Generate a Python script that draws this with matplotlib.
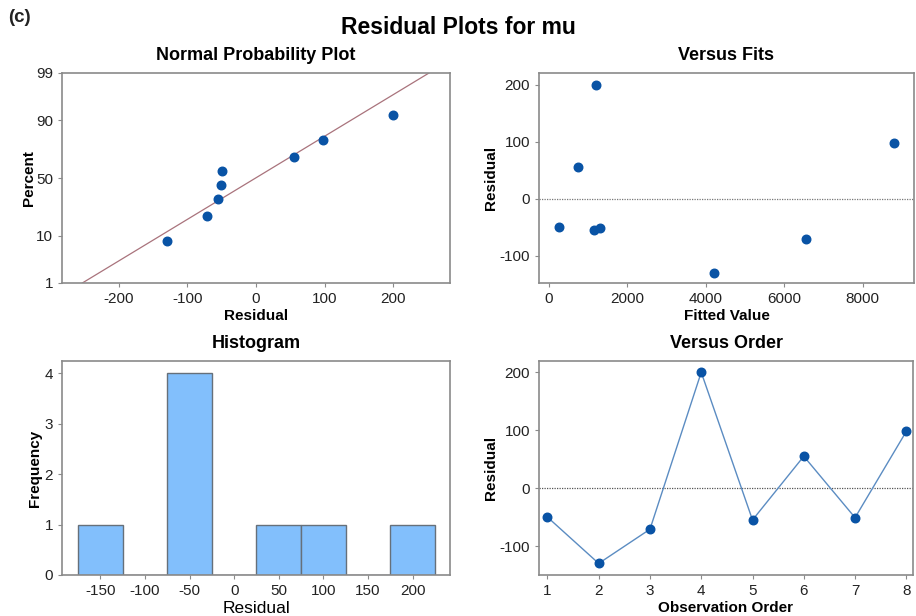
import numpy as np
import matplotlib

matplotlib.use("Agg")
import matplotlib.pyplot as plt
from statistics import NormalDist

plt.rcParams["font.family"] = ["Liberation Sans", "DejaVu Sans"]
plt.rcParams["axes.unicode_minus"] = False

# residuals in observation order, with their fitted values
ORDER = [1, 2, 3, 4, 5, 6, 7, 8]
RESID = [-50, -130, -71, 200, -55, 55, -51, 98]
FITTED = [250, 4200, 6550, 1200, 1150, 750, 1300, 8800]

# normal probability plot: sorted residuals and plotting percents
NPP_RESID = [-130, -71, -55, -51, -50, 55, 98, 200]
NPP_PCT = [8.3, 20.2, 32.1, 44.0, 56.0, 67.9, 79.8, 91.7]
NPP_TICKS = [1, 10, 50, 90, 99]

# histogram bins (centres) and counts
HIST_CENTERS = [-150, -100, -50, 0, 50, 100, 150, 200]
HIST_COUNTS = [1, 0, 4, 0, 1, 1, 0, 1]
HIST_WIDTH = 50

DOT = "#0953A5"
SPINE = "#8A8A8A"
TXT = "#222222"

W, H = 916, 616


def _ax(fig, l, r, t, b):
    ax = fig.add_axes([l / W, (H - b) / H, (r - l) / W, (b - t) / H])
    for s in ax.spines.values():
        s.set_color(SPINE)
        s.set_linewidth(1.2)
    ax.tick_params(labelsize=11, colors=TXT, length=3, width=0.8)
    ax.tick_params(axis="both", color=SPINE)
    return ax


def _z(p):
    return NormalDist().inv_cdf(p / 100.0)


fig = plt.figure(figsize=(W / 100, H / 100), dpi=100)
fig.text(0.5, 1 - 28 / H, "Residual Plots for mu", ha="center", va="center",
         fontsize=16.5, fontweight="bold")
fig.text(8 / W, 1 - 18 / H, "(c)", ha="left", va="center",
         fontsize=13.5, fontweight="bold", color="#222222")

# --- normal probability plot
ax = _ax(fig, 62, 450, 73, 283)
mu, sd = np.mean(RESID), np.std(RESID, ddof=1)
zl, zh = _z(1), _z(99)
ax.plot([mu + zl * sd, mu + zh * sd], [zl, zh],
        color="#A9737C", lw=0.9, zorder=1)
ax.scatter(NPP_RESID, [_z(p) for p in NPP_PCT], s=38, color=DOT, zorder=3)
ax.set_xlim(-283, 283)
ax.set_ylim(zl, zh)
ax.set_xticks([-200, -100, 0, 100, 200])
ax.set_yticks([_z(p) for p in NPP_TICKS])
ax.set_yticklabels([str(p) for p in NPP_TICKS])
ax.set_xlabel("Residual", fontsize=11, fontweight="bold", labelpad=2)
ax.set_ylabel("Percent", fontsize=11, fontweight="bold", labelpad=0)
ax.set_title("Normal Probability Plot", fontsize=13, fontweight="bold", pad=9)

# --- versus fits
ax = _ax(fig, 539, 914, 73, 283)
ax.axhline(0, color="#777777", lw=0.9, ls=(0, (1, 1)), zorder=1)
ax.scatter(FITTED, RESID, s=38, color=DOT, zorder=3)
ax.set_xlim(-255, 9310)
ax.set_ylim(-148, 221)
ax.set_xticks([0, 2000, 4000, 6000, 8000])
ax.set_yticks([-100, 0, 100, 200])
ax.set_xlabel("Fitted Value", fontsize=11, fontweight="bold", labelpad=2)
ax.set_ylabel("Residual", fontsize=11, fontweight="bold", labelpad=1)
ax.set_title("Versus Fits", fontsize=13, fontweight="bold", pad=9)

# --- histogram
ax = _ax(fig, 62, 450, 361, 575)
ax.bar(HIST_CENTERS, HIST_COUNTS, HIST_WIDTH, color="#82BFFC",
       edgecolor="#66707A", linewidth=1.0, zorder=2)
ax.set_xlim(-193, 242)
ax.set_ylim(0, 4.24)
ax.set_xticks([-150, -100, -50, 0, 50, 100, 150, 200])
ax.set_yticks([0, 1, 2, 3, 4])
ax.set_xlabel("Residual", fontsize=12.5, labelpad=2)
ax.set_ylabel("Frequency", fontsize=11, fontweight="bold", labelpad=2)
ax.set_title("Histogram", fontsize=13, fontweight="bold", pad=9)

# --- versus order
ax = _ax(fig, 539, 913, 361, 575)
ax.axhline(0, color="#555555", lw=0.9, ls=(0, (1, 1)), zorder=1)
ax.plot(ORDER, RESID, color="#5B8CC2", lw=1.0, zorder=2)
ax.scatter(ORDER, RESID, s=38, color=DOT, zorder=3)
ax.set_xlim(0.836, 8.13)
ax.set_ylim(-150, 219.5)
ax.set_xticks(ORDER)
ax.set_yticks([-100, 0, 100, 200])
ax.set_xlabel("Observation Order", fontsize=11, fontweight="bold", labelpad=2)
ax.set_ylabel("Residual", fontsize=11, fontweight="bold", labelpad=1)
ax.set_title("Versus Order", fontsize=13, fontweight="bold", pad=9)

fig.savefig("out.png", dpi=100)
